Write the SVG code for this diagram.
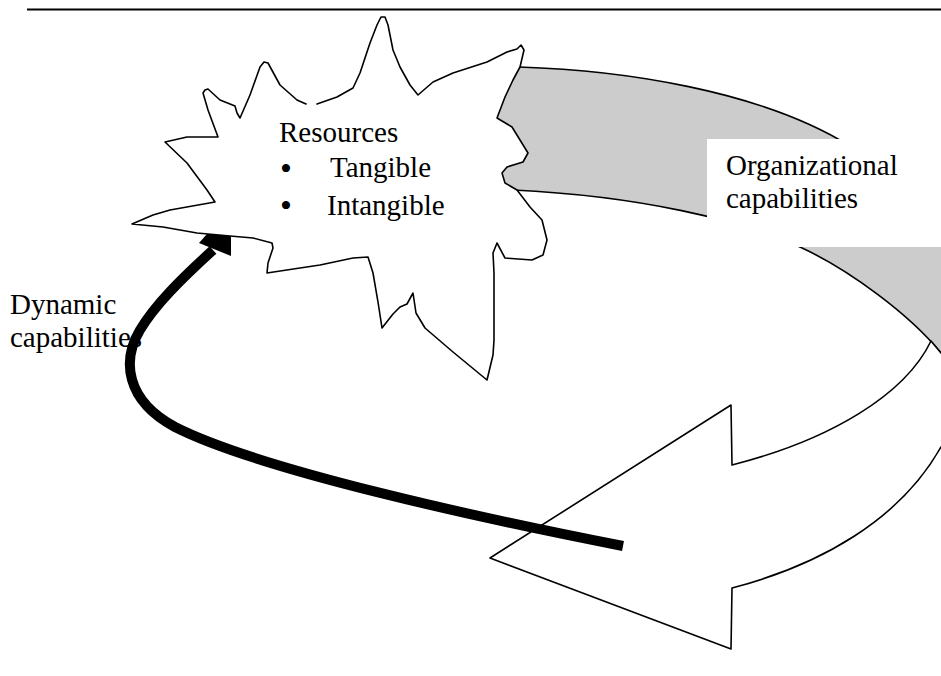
<svg xmlns="http://www.w3.org/2000/svg" width="941" height="676" viewBox="0 0 941 676">
<style>
.t{font-family:"Liberation Serif","Times New Roman",serif;font-size:29px;fill:#000}
.b{font-family:"Liberation Serif","Times New Roman",serif;font-size:34px;fill:#000}
.ol{stroke:#000;stroke-width:1.6;stroke-linejoin:round;stroke-linecap:round}
</style>
<rect width="941" height="676" fill="#fff"/>
<line x1="27" y1="9.5" x2="941" y2="9.5" stroke="#000" stroke-width="2"/>
<g id="organizational-capabilities">
<path fill="#ccc" d="M519,67 C620,70 760,90 850,146 C900,175 950,220 990,280 L1000,400 L941,353 C910,315 850,270 800,247 C740,220 640,196 513,190 L470,190 L470,100 L495,68 Z"/>
<path class="ol" fill="none" d="M519,67 C620,70 760,90 850,146 C900,175 950,220 990,280"/>
<path class="ol" fill="none" d="M513,190 C640,196 740,220 800,247 C850,270 910,315 941,353 L960,378"/>
<path class="ol" fill="#fff" d="M931,341 C905,395 830,440 732,465 L731,405 L490,558 L731,649 L732,588 C820,565 900,520 941,447 L1000,430 L1000,390 L941,353 Z"/>
</g>
<g id="dynamic-capabilities-label">
<text class="t" x="10" y="314">Dynamic</text>
<text class="t" x="10" y="347">capabilities</text>
</g>
<g id="connectors">
<path d="M623,546 C480,518 260,470 175,427 C125,400 122,360 140,330 C155,305 180,280 213,250" fill="none" stroke="#000" stroke-width="10"/>
<polygon points="199,243 231,256 231,207" fill="#000"/>
</g>
<g id="resources">
<path class="ol" fill="#fff" d="M317,104 L337,97 L353,88 L360,73 L370,43 L377,25 L381,17 L385,17 L388,25 L393,50 L400,67 L410,85 L418,95 L433,82 L453,73 L487,62 L507,52 L517,49 L521,45 L524,50 L520,67 L513,80 L505,97 L497,118 L512,127 L528,153 L523,162 L507,167 L502,173 L505,183 L517,190 L530,207 L542,220 L547,240 L543,255 L532,260 L505,258 L497,243 L493,253 L494,273 L494,340 L493,355 L487,380 L453,352 L425,328 L416,313 L413,293 L407,304 L400,307 L393,314 L382,328 L378,302 L373,273 L368,257 L353,258 L320,265 L300,268 L267,273 L268,263 L273,248 L272,243 L253,238 L230,236 L197,233 L163,227 L132,224 L153,215 L170,210 L215,202 L207,190 L187,163 L165,142 L187,137 L218,137 L208,110 L203,93 L205,90 L208,89 L220,100 L235,106 L237,113 L240,118 L250,95 L260,67 L264,62 L268,63 L280,85 L297,100 L306,104"/>
<text class="t" x="279" y="142">Resources</text>
<text class="b" x="280" y="180">•</text>
<text class="t" x="330" y="177">Tangible</text>
<text class="b" x="280" y="217">•</text>
<text class="t" x="327" y="215">Intangible</text>
</g>
<g id="organizational-label">
<rect x="707" y="139" width="234" height="108" fill="#fff"/>
<text class="t" x="726" y="175">Organizational</text>
<text class="t" x="726" y="208">capabilities</text>
</g>
</svg>
